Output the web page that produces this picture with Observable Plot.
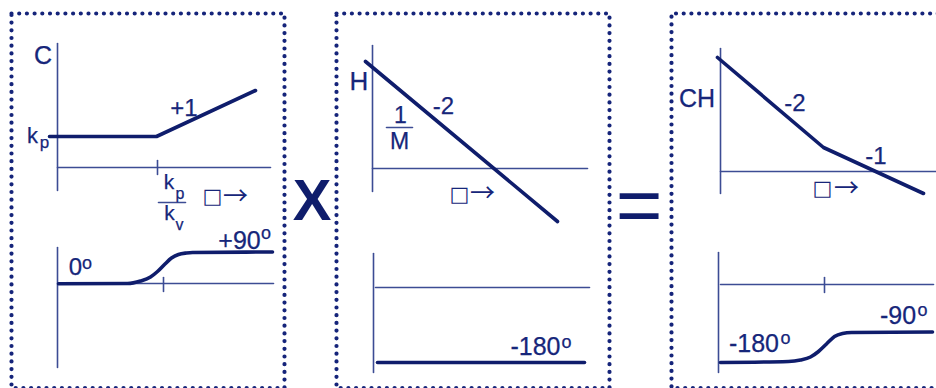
<!DOCTYPE html>
<html><head><meta charset="utf-8">
<script src="https://cdn.jsdelivr.net/npm/d3@7"></script>
<script src="https://cdn.jsdelivr.net/npm/@observablehq/plot@0.6"></script>
<style>html,body{margin:0;padding:0;background:#fff;overflow:hidden}</style>
</head><body><div id="chart"></div>
<script>
// Dotted panel frames (diagram units = pixels of the 936x388 sheet)
const frames = [
  {panel: 1, pts: [[11,13],[284,13],[284,387.5],[11,387.5],[11,13]]},
  {panel: 2, pts: [[336,13],[609,13],[609,387.5],[336,387.5],[336,13]]},
  {panel: 3, pts: [[945,13],[671,13],[671,387.5],[945,387.5]]}
];
// Axes and ticks (thin lines)
const axes = [
  [[57,43],[57,190]], [[57,167],[270,167]], [[157,160],[157,174]],
  [[57,247],[57,367]], [[58,283],[273,283]], [[163,277],[163,291]],
  [[372,45],[372,191]], [[372,168],[587,168]],
  [[373,253],[373,372]], [[375,287],[589,287]],
  [[720,48],[720,193]], [[720,171],[935,171]],
  [[718,252],[718,372]], [[720,284],[933,284]], [[824,277],[824,292]]
];
// Fraction bars
const fractionBars = [ [[158,202],[185,202]], [[386,127],[412,127]] ];
// Bode magnitude asymptotes (straight segments)
const magC  = [[49,136],[156,136],[255,90]];
const magH  = [[365,61],[557,221]];
const magCH = [[717,57],[823,147],[923,193]];
// Phase curves (smooth)
const phaseC = [[58,283.3],[127,283],[140,280.5],[150,276.5],[157,271],[164,264],[171,257.5],[178,254],[186,252.5],[192,252],[272,251.5]];
const phaseH = [[377,362],[584,362]];
const phaseCH = [[720,362],[788,361],[800,359.5],[810,356.5],[818,351],[826,343.5],[834,336],[842,333],[851,332],[932,331.5]];
// Labels
const labelText = ["C","k","p","+1","k","p","k","v","0","o","+90","o",
                   "H","-2","1","M","-180","o",
                   "CH","-2","-1","-90","o","-180","o"];
const labelX = [42.5,32,44,183.5,168.5,179.5,169,179,75,86.5,239,265.5,
                358.5,443,400,399,535,566,
                696.5,794.5,875.5,897.5,922,753.5,785];
const labelY = [55.5,135,142,107.5,182,193,213,224,266.5,263,240.5,233,
                81.5,106,115.5,141,346.5,342,
                98.5,102.5,155.5,315,310,343.5,338];
const labelSize = [25,22,17,24,21,16,21,16,24,18,25,18,
                   26,24,23,23,25,18,
                   25,24,24,25,18,25,18];
// Frequency axis hints (missing-glyph box + arrow)
const omegaText = ["\u25A1", "\u25A1", "\u25A1"];
const omegaX = [212, 459, 822];
const arrowX = [235, 482, 846];
const omegaY = [196, 193.5, 188];
const timesSign = [{t: "X", x: 311.5, y: 200.5}];
const equalsSign = [{t: "=", x: 638.5, y: 205.5}];

const navy = "#0f1d6c", axisCol = "#3c4c94", textCol = "#16267a", dotCol = "#15247a";
const font = "'Liberation Sans', Arial, 'DejaVu Sans', sans-serif";
const labels = labelText.map((t, i) => ({t, x: labelX[i], y: labelY[i], s: labelSize[i]}));
const omegas = omegaText.map((t, i) => ({t, x: omegaX[i], ax: arrowX[i], y: omegaY[i]}));
const seg = (arr) => arr.flatMap((p, i) => p.map(([x, y]) => ({x, y, z: i})));

const chart = Plot.plot({
  width: 936, height: 388, margin: 0,
  x: {domain: [0, 936], range: [0, 936], axis: null},
  y: {domain: [0, 388], range: [0, 388], axis: null},
  style: {background: "#fff", overflow: "visible"},
  marks: [
    Plot.line(frames.flatMap(f => f.pts.map(([x, y]) => ({x, y, z: f.panel}))),
      {x: "x", y: "y", z: "z", stroke: dotCol, strokeWidth: 4.2, strokeLinecap: "round", strokeDasharray: "0 7.7"}),
    Plot.line(seg(axes), {x: "x", y: "y", z: "z", stroke: axisCol, strokeWidth: 1.6}),
    Plot.line(seg(fractionBars), {x: "x", y: "y", z: "z", stroke: axisCol, strokeWidth: 1.6}),
    Plot.line(seg([magC, magH, magCH]), {x: "x", y: "y", z: "z", stroke: navy, strokeWidth: 3.6, strokeLinejoin: "round"}),
    Plot.line(seg([phaseC, phaseH, phaseCH]), {x: "x", y: "y", z: "z", stroke: navy, strokeWidth: 3.6, curve: "monotone-x"}),
    Plot.text(labels, {x: "x", y: "y", text: "t", fontSize: "s", fill: textCol, stroke: textCol, strokeWidth: 0.25, fontFamily: font}),
    Plot.text(omegas, {x: "x", y: "y", text: "t", fontSize: 21, fill: textCol, fontFamily: "'DejaVu Sans', sans-serif"}),
    Plot.text(omegas, {x: "ax", y: "y", text: () => "\u2192", fontSize: 25, fill: textCol, fontFamily: "'Noto Sans CJK JP', 'DejaVu Sans', sans-serif"}),
    Plot.text(timesSign, {x: "x", y: "y", text: "t", fontSize: 58, fill: navy, fontFamily: font, fontWeight: "bold"}),
    Plot.text(equalsSign, {x: "x", y: "y", text: "t", fontSize: 80, fill: navy, fontFamily: font})
  ]
});
document.getElementById("chart").appendChild(chart);
</script></body></html>
